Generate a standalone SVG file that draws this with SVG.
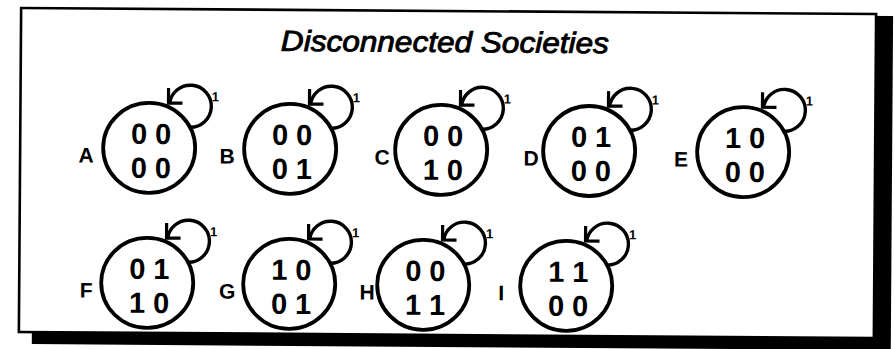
<svg xmlns="http://www.w3.org/2000/svg" width="895" height="349" viewBox="0 0 895 349">
<style>
.c{fill:none;stroke:#000;stroke-width:3.8}
.lp{fill:none;stroke:#000;stroke-width:3.4}
.ah{fill:none;stroke:#000;stroke-width:3.2;stroke-linejoin:miter}
.dg{font-family:"Liberation Sans Narrow","Liberation Sans",Arial,sans-serif;font-weight:bold;font-size:29px;text-anchor:middle;fill:#000}
.lbl{font-family:"Liberation Sans Narrow","Liberation Sans",Arial,sans-serif;font-weight:bold;font-size:21px;text-anchor:middle;fill:#000}
.one{font-family:"Liberation Sans",Arial,sans-serif;font-weight:bold;font-size:13px;text-anchor:middle;fill:#000}
.tt{font-family:"Liberation Sans",Arial,sans-serif;font-style:italic;font-size:29px;text-anchor:middle;fill:#000;stroke:#000;stroke-width:0.9}
</style>
<rect width="895" height="349" fill="#fff"/>
<g transform="rotate(0.4 447 172)">
<rect x="33" y="13" width="859" height="334" fill="#000"/>
<rect x="20" y="11" width="855" height="324" fill="#fff" stroke="#000" stroke-width="2.6"/>
<text class="tt" x="444" y="52" textLength="328" lengthAdjust="spacingAndGlyphs">Disconnected Societies</text>
<g id="connectors">
<path class="lp" d="M189 129A21 21 0 1 0 169 106"/>
<path class="ah" d="M168 90V105H182"/>
<path class="lp" d="M330 129A21 21 0 1 0 310 106"/>
<path class="ah" d="M309 90V105H323"/>
<path class="lp" d="M481 129A21 21 0 1 0 461 106"/>
<path class="ah" d="M460 90V105H474"/>
<path class="lp" d="M629 129A21 21 0 1 0 609 106"/>
<path class="ah" d="M608 90V105H622"/>
<path class="lp" d="M783 129A21 21 0 1 0 763 106"/>
<path class="ah" d="M762 90V105H776"/>
<path class="lp" d="M188 264A21 21 0 1 0 168 241"/>
<path class="ah" d="M167 225V240H181"/>
<path class="lp" d="M330 264A21 21 0 1 0 310 241"/>
<path class="ah" d="M309 225V240H323"/>
<path class="lp" d="M464 264A21 21 0 1 0 444 241"/>
<path class="ah" d="M443 225V240H457"/>
<path class="lp" d="M607 264A21 21 0 1 0 587 241"/>
<path class="ah" d="M586 225V240H600"/>
<text class="one" x="215" y="103">1</text>
<text class="one" x="356" y="103">1</text>
<text class="one" x="507" y="103">1</text>
<text class="one" x="655" y="103">1</text>
<text class="one" x="809" y="103">1</text>
<text class="one" x="214" y="238">1</text>
<text class="one" x="356" y="238">1</text>
<text class="one" x="490" y="238">1</text>
<text class="one" x="633" y="238">1</text>
</g>
<g id="A"><ellipse class="c" cx="149" cy="150" rx="46" ry="45"/><text class="lbl" x="86" y="165">A</text><text class="dg" x="139 163" y="146">00</text><text class="dg" x="139 163" y="180">00</text></g>
<g id="B"><ellipse class="c" cx="290" cy="150" rx="46" ry="45"/><text class="lbl" x="227" y="165">B</text><text class="dg" x="280 304" y="146">00</text><text class="dg" x="280 304" y="180">01</text></g>
<g id="C"><ellipse class="c" cx="441" cy="150" rx="46" ry="45"/><text class="lbl" x="382" y="165">C</text><text class="dg" x="431 455" y="146">00</text><text class="dg" x="431 455" y="180">10</text></g>
<g id="D"><ellipse class="c" cx="589" cy="150" rx="46" ry="45"/><text class="lbl" x="531" y="165">D</text><text class="dg" x="579 603" y="146">01</text><text class="dg" x="579 603" y="180">00</text></g>
<g id="E"><ellipse class="c" cx="743" cy="150" rx="46" ry="45"/><text class="lbl" x="681" y="165">E</text><text class="dg" x="733 757" y="146">10</text><text class="dg" x="733 757" y="180">00</text></g>
<g id="F"><ellipse class="c" cx="148" cy="285" rx="46" ry="45"/><text class="lbl" x="87" y="300">F</text><text class="dg" x="138 162" y="281">01</text><text class="dg" x="138 162" y="315">10</text></g>
<g id="G"><ellipse class="c" cx="290" cy="285" rx="46" ry="45"/><text class="lbl" x="228" y="300">G</text><text class="dg" x="280 304" y="281">10</text><text class="dg" x="280 304" y="315">01</text></g>
<g id="H"><ellipse class="c" cx="424" cy="285" rx="46" ry="45"/><text class="lbl" x="368" y="300">H</text><text class="dg" x="414 438" y="281">00</text><text class="dg" x="414 438" y="315">11</text></g>
<g id="I"><ellipse class="c" cx="567" cy="285" rx="46" ry="45"/><text class="lbl" x="502" y="300">I</text><text class="dg" x="557 581" y="281">11</text><text class="dg" x="557 581" y="315">00</text></g>
</g>
</svg>
